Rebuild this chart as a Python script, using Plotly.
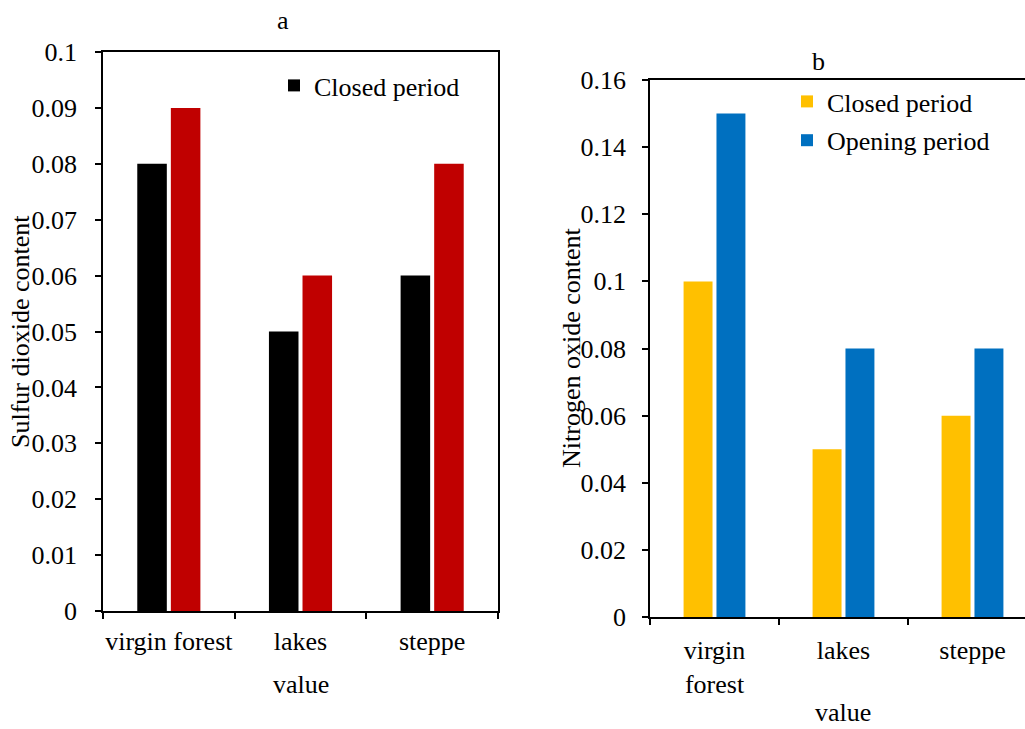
import plotly.graph_objects as go

categories_a = ["virgin forest", "lakes", "steppe"]
closed_a = [0.08, 0.05, 0.06]
opening_a = [0.09, 0.06, 0.08]

categories_b = ["virgin<br>forest", "lakes", "steppe"]
closed_b = [0.10, 0.05, 0.06]
opening_b = [0.15, 0.08, 0.08]

W, H = 1025, 729
FONT = "Liberation Serif"
FS = 26

def px(x):
    return x / W

def py(y):
    return 1 - y / H

fig = go.Figure()
fig.add_trace(go.Bar(x=categories_a, y=closed_a, name="Closed period",
                     marker=dict(color="#000000", line=dict(width=0)),
                     xaxis="x", yaxis="y", legend="legend"))
fig.add_trace(go.Bar(x=categories_a, y=opening_a, name="Opening period",
                     marker=dict(color="#C00000", line=dict(width=0)),
                     xaxis="x", yaxis="y", showlegend=False))
fig.add_trace(go.Bar(x=categories_b, y=closed_b, name="Closed period",
                     marker=dict(color="#FFC000", line=dict(width=0)),
                     xaxis="x2", yaxis="y2", legend="legend2", legendgroup="c"))
fig.add_trace(go.Bar(x=categories_b, y=opening_b, name="Opening period",
                     marker=dict(color="#0070C0", line=dict(width=0)),
                     xaxis="x2", yaxis="y2", legend="legend2", legendgroup="o"))

axis_common = dict(showline=True, linecolor="black", linewidth=1.5,
                   ticks="outside", ticklen=6, tickwidth=1.5, tickcolor="black",
                   showgrid=False, zeroline=False, automargin=False, tickangle=0,
                   tickfont=dict(family=FONT, size=FS, color="black"))

ann_font = dict(family=FONT, size=FS, color="black")

def ann(text, x, y, angle=0):
    return dict(text=text, x=px(x), y=py(y), xref="paper", yref="paper",
                xanchor="center", yanchor="middle", showarrow=False,
                textangle=angle, font=ann_font, borderpad=0)

fig.update_layout(
    template="none",
    width=W, height=H,
    margin=dict(l=0, r=0, t=0, b=0, pad=0),
    paper_bgcolor="white", plot_bgcolor="white",
    barmode="group", bargap=0.49, bargroupgap=0.12,
    font=dict(family=FONT, size=FS, color="black"),
    xaxis=dict(domain=[px(103), px(498)], anchor="y", tickson="boundaries",
               mirror=True, range=[-0.5, 2.5], ticklabelstandoff=6, **axis_common),
    yaxis=dict(domain=[py(611), py(52)], anchor="x", range=[0, 0.1], dtick=0.01,
               mirror=True, ticklabelstandoff=13, **axis_common),
    xaxis2=dict(domain=[px(650), 1.0], anchor="y2", tickson="boundaries",
                mirror=True, range=[-0.5, 2.5 - 12 / 129], ticklabelstandoff=9, **axis_common),
    yaxis2=dict(domain=[py(617), py(80)], anchor="x2", range=[0, 0.16], dtick=0.02,
                ticklabelstandoff=11, **axis_common),
    legend=dict(x=px(274), y=py(62), xanchor="left", yanchor="top",
                bgcolor="rgba(0,0,0,0)", font=dict(family=FONT, size=FS, color="black")),
    legend2=dict(x=px(787), y=py(78), xanchor="left", yanchor="top",
                 bgcolor="rgba(0,0,0,0)", font=dict(family=FONT, size=FS, color="black"),
                 tracegroupgap=2, traceorder="grouped"),
    annotations=[
        ann("a", 283, 21),
        ann("b", 818, 61),
        ann("value", 301, 684),
        ann("value", 843, 712),
        ann("Sulfur dioxide content", 20, 332, -90),
        ann("Nitrogen oxide content", 571, 348, -90),
    ],
)

fig.write_html("out.html")
